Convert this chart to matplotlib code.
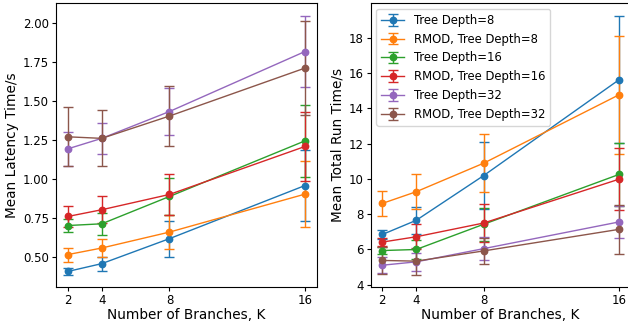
import numpy as np
import matplotlib
matplotlib.use("Agg")
import matplotlib.pyplot as plt

# -------------------------------
# Data
# -------------------------------
branches = [2, 4, 8, 16]
labels = ["Tree Depth=8", "RMOD, Tree Depth=8",
          "Tree Depth=16", "RMOD, Tree Depth=16",
          "Tree Depth=32", "RMOD, Tree Depth=32"]

# mean latency (s) and error
lat_tree8 = [0.41, 0.46, 0.62, 0.96]
lat_tree8_err = [0.02, 0.045, 0.116, 0.225]
lat_rmod8 = [0.518, 0.56, 0.662, 0.905]
lat_rmod8_err = [0.045, 0.06, 0.107, 0.21]
lat_tree16 = [0.704, 0.715, 0.89, 1.246]
lat_tree16_err = [0.043, 0.07, 0.12, 0.23]
lat_rmod16 = [0.762, 0.805, 0.903, 1.21]
lat_rmod16_err = [0.07, 0.085, 0.13, 0.22]
lat_tree32 = [1.195, 1.262, 1.434, 1.818]
lat_tree32_err = [0.11, 0.10, 0.152, 0.226]
lat_rmod32 = [1.272, 1.262, 1.405, 1.712]
lat_rmod32_err = [0.19, 0.18, 0.19, 0.30]

# mean total run time (s) and error
run_tree8 = [6.85, 7.65, 10.19, 15.61]
run_tree8_err = [0.26, 0.76, 1.87, 3.6]
run_rmod8 = [8.61, 9.27, 10.89, 14.76]
run_rmod8_err = [0.73, 1.0, 1.63, 3.33]
run_tree16 = [5.94, 6.0, 7.43, 10.25]
run_tree16_err = [0.21, 0.55, 0.93, 1.8]
run_rmod16 = [6.42, 6.72, 7.5, 9.98]
run_rmod16_err = [0.24, 0.7, 1.05, 1.75]
run_tree32 = [5.11, 5.3, 6.05, 7.56]
run_tree32_err = [0.45, 0.5, 0.65, 0.9]
run_rmod32 = [5.38, 5.34, 5.92, 7.14]
run_rmod32_err = [0.78, 0.76, 0.73, 1.4]

lat_means = [lat_tree8, lat_rmod8, lat_tree16, lat_rmod16, lat_tree32, lat_rmod32]
lat_errs = [lat_tree8_err, lat_rmod8_err, lat_tree16_err, lat_rmod16_err,
            lat_tree32_err, lat_rmod32_err]
run_means = [run_tree8, run_rmod8, run_tree16, run_rmod16, run_tree32, run_rmod32]
run_errs = [run_tree8_err, run_rmod8_err, run_tree16_err, run_rmod16_err,
            run_tree32_err, run_rmod32_err]

# -------------------------------
# Figure
# -------------------------------
fig = plt.figure(figsize=(6.28, 3.24), dpi=100)
ax1 = fig.add_axes([0.0892, 0.1127, 0.4153, 0.8771])
ax2 = fig.add_axes([0.590, 0.1127, 0.4145, 0.8771])

style = dict(marker="o", markersize=4.6, linewidth=1.0, capsize=3.4,
             elinewidth=1.0, capthick=1.0)

for i in range(len(labels)):
    ax1.errorbar(branches, lat_means[i], yerr=lat_errs[i], color=f"C{i}",
                 label=labels[i], **style)
    ax2.errorbar(branches, run_means[i], yerr=run_errs[i], color=f"C{i}",
                 label=labels[i], **style)

for ax in (ax1, ax2):
    ax.set_xticks(branches)
    ax.tick_params(labelsize=8.5, length=3, pad=2)
    ax.set_xlabel("Number of Branches, K", fontsize=9.8, labelpad=0.5)

ax1.set_ylabel("Mean Latency Time/s", fontsize=9.8, labelpad=3)
ax2.set_ylabel("Mean Total Run Time/s", fontsize=9.8, labelpad=3)
ax2.set_yticks([4, 6, 8, 10, 12, 14, 16, 18])
ax2.legend(loc="upper left", fontsize=8.4)

fig.savefig("out.png", dpi=100)
